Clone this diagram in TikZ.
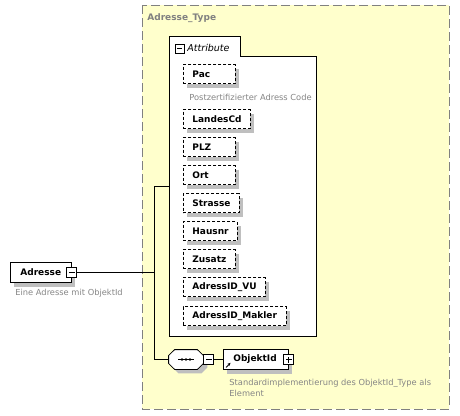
\documentclass[tikz,border=0pt]{standalone}
\usepackage{fontspec}
\setmainfont{DejaVu Sans}
\usetikzlibrary{shadows,arrows.meta}

\begin{document}
\begin{tikzpicture}[x=1pt,y=-1pt,line width=0.8pt,font=\fontsize{9}{11}\selectfont,
  shadowed/.style={drop shadow={shadow xshift=4pt,shadow yshift=-4pt,fill=shadowgrey,opacity=1}},
  attrel/.style={draw,dash pattern=on 3pt off 2pt,fill=white,shadowed,anchor=west,
    minimum height=19pt,inner xsep=9pt,inner ysep=0pt,text width=#1,align=left,font=\fontsize{9}{11}\selectfont\bfseries},
  elbox/.style={draw,fill=white,shadowed,anchor=west,
    minimum height=20pt,inner xsep=10pt,inner ysep=0pt,text width=#1,align=left,font=\fontsize{9}{11}\selectfont\bfseries},
  note/.style={anchor=west,inner sep=2pt,align=left,text=notegrey,font=\fontsize{8.3}{11}\selectfont},
  minusbox/.style={draw,fill=white,minimum size=10pt,inner sep=0pt,
    path picture={\draw ([xshift=2pt]path picture bounding box.west) -- ([xshift=-2pt]path picture bounding box.east);}},
  plusbox/.style={draw,fill=white,minimum size=10pt,inner sep=0pt,
    path picture={\draw ([xshift=2pt]path picture bounding box.west) -- ([xshift=-2pt]path picture bounding box.east);
                  \draw ([yshift=2pt]path picture bounding box.south) -- ([yshift=-2pt]path picture bounding box.north);}},
  seqbox/.style={minimum width=34pt,minimum height=19pt,inner sep=0pt}]
  \definecolor{typeyellow}{RGB}{255,255,204}
  \definecolor{boxgrey}{gray}{0.5}
  \definecolor{shadowgrey}{gray}{0.75}
  \definecolor{notegrey}{gray}{0.52}
  \useasboundingbox (0,0) rectangle (460,415);

  %% the complex type: yellow dashed frame with its name
  \draw[fill=typeyellow,draw=boxgrey,dash pattern=on 9pt off 4pt] (142,5) rectangle (449,409);
  \node[anchor=west,inner sep=0pt,text=boxgrey,font=\fontsize{9}{11}\selectfont\bfseries] (typename) at (147,18) {Adresse\_Type};

  %% attribute group: white panel with a tab
  \draw[fill=white] (169,336) -- (169,36) -- (240,36) -- (240,56) -- (316,56) -- (316,336) -- cycle;
  \node[minusbox,minimum size=9pt] (attrtoggle) at (179.5,48.5) {};
  \node[anchor=west,inner sep=0pt,font=\fontsize{9.5}{11}\selectfont\itshape] (attrlabel) at (187,48) {Attribute};

  %% attributes, each a dashed box (optional)
  \node[attrel=34pt] (pac) at (183,74) {Pac};
  \node[note] (pacnote) at (187,97) {Postzertifizierter Adress Code};
  \node[attrel=49pt] (landescd) at (183,119) {LandesCd};
  \node[attrel=34pt] (plz) at (183,147) {PLZ};
  \node[attrel=34pt] (ort) at (183,175) {Ort};
  \node[attrel=38pt] (strasse) at (183,203) {Strasse};
  \node[attrel=36pt] (hausnr) at (183,231) {Hausnr};
  \node[attrel=34pt] (zusatz) at (183,259) {Zusatz};
  \node[attrel=64pt] (adressvu) at (183,287) {AdressID\_VU};
  \node[attrel=85pt] (adressmakler) at (183,316) {AdressID\_Makler};

  %% root element
  \node[elbox=41pt] (adresse) at (10,272.5) {Adresse};
  \node[minusbox] (adrtoggle) at (adresse.east) {};
  \node[note] (adrnote) at (13,293) {Eine Adresse mit ObjektId};

  %% sequence with the referenced element
  \node[seqbox] (seq) at (186,359.5) {};
  \draw[fill=white,shadowed] (seq.west) -- ([yshift=4pt]seq.west) -- ([xshift=6pt]seq.north west)
    -- ([xshift=-6pt]seq.north east) -- ([yshift=4pt]seq.east) -- ([yshift=-4pt]seq.east)
    -- ([xshift=-6pt]seq.south east) -- ([xshift=6pt]seq.south west) -- ([yshift=-4pt]seq.west) -- cycle;
  \draw ([xshift=-8pt]seq.center) -- ([xshift=8pt]seq.center);
  \foreach \dx in {-4,0,4}
    \fill ([xshift=\dx pt]seq.center) circle (1.3pt);
  \node[minusbox,anchor=west] (seqtoggle) at (seq.east) {};
  \node[elbox=45pt] (objektid) at (223,359.5) {ObjektId};
  \node[plusbox] (objtoggle) at (objektid.east) {};
  \draw[-{Stealth[length=3pt,width=3pt]},line width=0.9pt] ([shift={(3pt,2.5pt)}]objektid.south west) -- ++(4.5,-4.5);
  \node[note] (objnote) at (227,387.5) {Standardimplementierung des ObjektId\_Type als\\Element};

  %% connectors
  \coordinate (fork) at (154,272.5);
  \coordinate (forktop) at (154,186);
  \coordinate (forkbot) at (154,359.5);
  \coordinate (attrin) at (169,186);
  \draw (adrtoggle.east) -- (fork);
  \draw (forktop) -- (forkbot);
  \draw (forktop) -- (attrin);
  \draw (forkbot) -- (seq.west);
  \draw (seqtoggle.east) -- (objektid.west);
\end{tikzpicture}
\end{document}
